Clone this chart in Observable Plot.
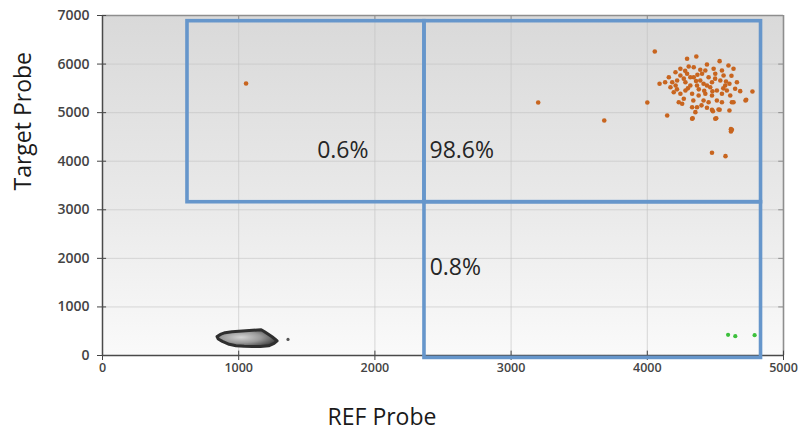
<!DOCTYPE html>
<html>
<head>
<meta charset="utf-8">
<script src="https://cdn.jsdelivr.net/npm/d3@7"></script>
<script src="https://cdn.jsdelivr.net/npm/@observablehq/plot@0.6"></script>
<style>
  html, body { margin: 0; padding: 0; background: #fff; }
  #chart svg { display: block; }
</style>
</head>
<body>
<div id="chart"></div>
<script>
// Axis ticks and titles
const xTicks = [0, 1000, 2000, 3000, 4000, 5000];
const yTicks = [0, 1000, 2000, 3000, 4000, 5000, 6000, 7000];
const xTitle = "REF Probe";
const yTitle = "Target Probe";

// Gates (quadrant boxes) in data units
const gates = [
  {x1: 624,  x2: 2364, y1: 3156, y2: 6883},
  {x1: 2364, x2: 4835, y1: 3156, y2: 6883},
  {x1: 2364, x2: 4835, y1: -50,  y2: 3156}
];

// Percentage of events in each gate
const gateLabels = [
  {x: 1576, y: 4221, text: "0.6%"},
  {x: 2401, y: 4221, text: "98.6%"},
  {x: 2402, y: 1818, text: "0.8%"}
];

// Double-positive droplets (orange)
const positive = [
  [4055,6259],[4292,6109],[4360,6156],[4531,6060],[4596,5971],[4633,5903],[4438,5992],
  [4389,5882],[4304,5951],[4243,5903],[4207,5833],[4158,5730],[4131,5627],[4090,5594],
  [4170,5524],[4194,5421],[4243,5388],[4231,5215],[4256,5183],[4146,4942],[4000,5209],
  [4329,5112],[4365,5112],[4353,5010],[4329,4874],[4475,5059],[4531,5059],[4499,4874],
  [4603,5045],[4621,4647],[4621,5215],[4548,5215],[4726,5265],[4772,5436],[4682,5442],
  [4658,5627],[4603,5594],[4560,5765],[4499,5800],[4450,5730],[4402,5800],[4341,5730],
  [4292,5800],[4280,5627],[4316,5560],[4365,5560],[4413,5594],[4462,5524],[4511,5456],
  [4548,5388],[4475,5353],[4426,5388],[4377,5353],[4329,5388],[4280,5456],[4219,5662],
  [4183,5627],[4268,5286],[4450,5215],[4413,5250],[4511,5250],[4584,5456],[4609,5353],
  [4645,5491],[4341,5936],[4487,5903],[4548,5868],[4243,5765],[4316,5730],[4426,5868],
  [4389,5662],[4475,5627],[4536,5662],[4572,5560],[4721,5250],[4633,5215],[4333,4886],
  [4506,4886],[4523,5065],[4482,5030],[4614,4612],[4574,4104],[4475,4174],[4614,4660],
  [4268,5700],[4358,5650],[4438,5560],[4498,5700],[4378,5480],[4298,5500],[4218,5480],
  [4418,5450],[4478,5440],[4578,5640],[4368,5780],[4278,5860],[4208,5560],[4338,5250],
  [4398,5150],[4558,5500],[4618,5760],[4438,5100],
  [1054,5600],[3199,5209],[3684,4839]
];

// REF-only droplets (green)
const refOnly = [[4593,426],[4646,397],[4788,418]];

// Negative droplet cloud (grey): boundary of the cloud
const negative = [
  [841,391],[870,440],[900,470],[950,490],[1000,494],[1050,494],[1100,490],[1140,505],
  [1165,530],[1190,490],[1215,440],[1245,385],[1270,330],[1282,300],[1260,250],
  [1220,200],[1160,185],[1100,185],[1040,190],[980,200],[930,230],[880,290],[850,340]
];
const stray = [[1362,330]];

const chart = Plot.plot({
  width: 801,
  height: 440,
  marginLeft: 102,
  marginRight: 18,
  marginTop: 15,
  marginBottom: 85,
  style: {fontFamily: "'Open Sans', sans-serif", background: "transparent"},
  x: {domain: [0, 5000], label: null},
  y: {domain: [0, 7000], label: null},
  marks: [
    Plot.frame({fill: "url(#plotBg)", stroke: "none"}),
    Plot.gridX(xTicks, {stroke: "#c2c2c2", strokeOpacity: 0.6}),
    Plot.gridY(yTicks, {stroke: "#c2c2c2", strokeOpacity: 0.6}),
    // top and right frame lines with inward ticks
    Plot.ruleY([7000], {stroke: "#8e8e8e", strokeWidth: 1.6}),
    Plot.ruleX([5000], {stroke: "#8e8e8e", strokeWidth: 1.6}),
    Plot.ruleX(xTicks, {y1: 6910, y2: 7000, stroke: "#8e8e8e"}),
    Plot.ruleY(yTicks, {x1: 4965, x2: 5000, stroke: "#8e8e8e"}),
    // axes
    Plot.axisX(xTicks, {tickSize: 5, tickPadding: 3, tickFormat: d => String(d), fontSize: 12.5, fontWeight: 600, color: "#444", label: null}),
    Plot.axisY(yTicks, {tickSize: 5, tickPadding: 8, tickFormat: d => String(d), fontSize: 14, fontWeight: 600, color: "#444", label: null}),
    Plot.ruleX(xTicks, {y1: 0, y2: 90, stroke: "#444"}),
    Plot.ruleY(yTicks, {x1: 0, x2: 30, stroke: "#444"}),
    Plot.ruleY([0], {stroke: "#4a4a4a", strokeWidth: 1.5}),
    Plot.ruleX([0], {stroke: "#4a4a4a", strokeWidth: 1.5}),
    // negative cloud: dark rim with a lighter shaded body
    Plot.hull(negative, {x: d => d[0], y: d => d[1], fill: "url(#blobFill)", stroke: "#2f2f2f", strokeWidth: 3, strokeLinejoin: "round"}),
    Plot.dot(stray, {x: d => d[0], y: d => d[1], r: 1.6, fill: "#555", stroke: "none"}),
    // gates
    Plot.rect(gates, {x1: "x1", x2: "x2", y1: "y1", y2: "y2", fill: "none", stroke: "#6696cb", strokeWidth: 3.6}),
    // droplets
    Plot.dot(positive, {x: d => d[0], y: d => d[1], r: 2.3, fill: "#c8651f", stroke: "none"}),
    Plot.dot(refOnly, {x: d => d[0], y: d => d[1], r: 2.1, fill: "#3cc03c", stroke: "none"}),
    // gate percentages
    Plot.text(gateLabels, {x: "x", y: "y", text: "text", textAnchor: "start", fontSize: 23, fill: "#262626"}),
    // axis titles
    Plot.text([xTitle], {text: d => d, frameAnchor: "bottom", dx: -61, dy: 69, fontSize: 23, fill: "#1a1a1a"}),
    Plot.text([yTitle], {text: d => d, frameAnchor: "left", rotate: -90, dx: -79, dy: 5, fontSize: 23, fill: "#1a1a1a"})
  ]
});

// gradients used by the plot background and the grey cloud
const defs = d3.select(chart).insert("defs", ":first-child");
const grad = defs.append("linearGradient").attr("id", "plotBg")
  .attr("x1", 0).attr("y1", 0).attr("x2", 0).attr("y2", 1);
grad.append("stop").attr("offset", "0%").attr("stop-color", "#d9d9d9");
grad.append("stop").attr("offset", "55%").attr("stop-color", "#e9e9e9");
grad.append("stop").attr("offset", "100%").attr("stop-color", "#fafafa");
const blob = defs.append("radialGradient").attr("id", "blobFill")
  .attr("cx", "40%").attr("cy", "45%").attr("r", "60%");
blob.append("stop").attr("offset", "0%").attr("stop-color", "#d4d4d4");
blob.append("stop").attr("offset", "55%").attr("stop-color", "#9a9a9a");
blob.append("stop").attr("offset", "100%").attr("stop-color", "#4a4a4a");

document.getElementById("chart").append(chart);
</script>
</body>
</html>
